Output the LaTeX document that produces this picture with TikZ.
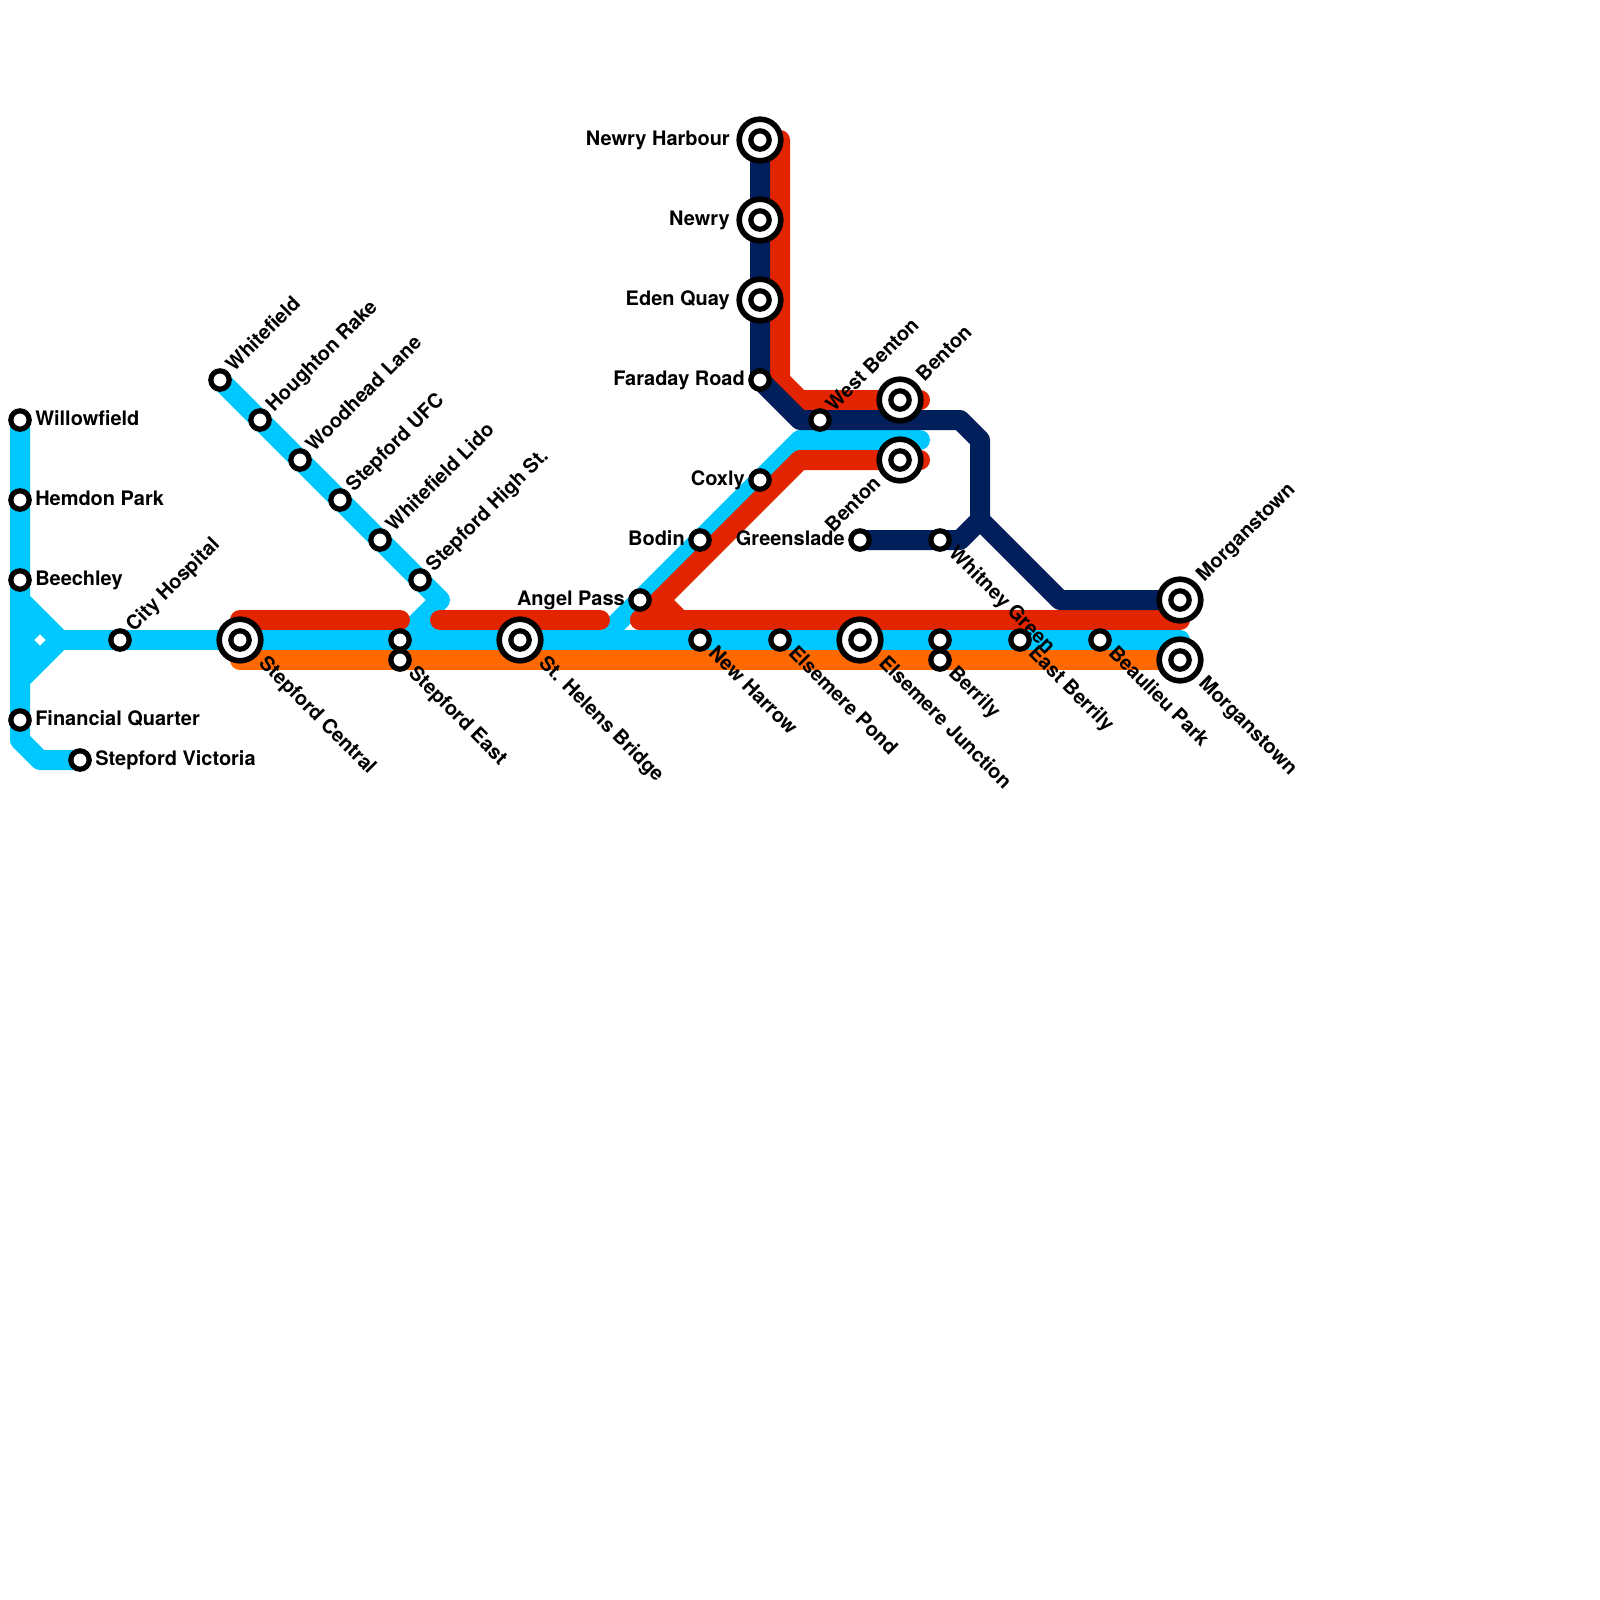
\documentclass[tikz,border=0pt]{standalone}
\usepackage{fontspec}
\setmainfont{TeX Gyre Heros}
\usetikzlibrary{positioning}
\definecolor{lineblue}{RGB}{0,200,255}
\definecolor{linered}{RGB}{227,36,0}
\definecolor{linenavy}{RGB}{1,31,91}
\definecolor{lineorange}{RGB}{255,105,0}
\tikzset{
  metro/.style={line width=0.5cm,line cap=round,line join=round},
  stn/.style={circle,draw=black,fill=white,line width=0.13cm,minimum size=0.46cm,inner sep=0pt},
  xchg/.style={circle,draw=black,fill=white,line width=0.14cm,minimum size=1.04cm,inner sep=0pt},
  lbl/.style={font=\fontsize{14.2}{16}\selectfont\bfseries,inner sep=0pt,text=black},
  lblr/.style={lbl,anchor=base west,xshift=0.375cm,yshift=-0.125cm},
  lbll/.style={lbl,anchor=base east,xshift=-0.375cm,yshift=-0.125cm},
  lblur/.style={lbl,anchor=base west,rotate=45,xshift=0.38cm,yshift=-0.115cm},
  lbldr/.style={lbl,anchor=base west,rotate=-45,xshift=0.38cm,yshift=-0.115cm},
  bigl/.style={lbl,anchor=base east,xshift=-0.75cm,yshift=-0.125cm},
  bigur/.style={lbl,anchor=base west,rotate=45,xshift=0.74cm,yshift=-0.115cm},
  bigdr/.style={lbl,anchor=base west,rotate=-45,xshift=0.74cm,yshift=-0.115cm},
  bigll/.style={lbl,anchor=base east,rotate=45,xshift=-0.75cm,yshift=-0.115cm},
}
\begin{document}
\begin{tikzpicture}[x=0.5cm,y=-0.5cm]
\useasboundingbox[fill=white] (0,0) rectangle (80,80);
% stations on the 20px grid
\foreach \nm/\x/\y in {willowfield/1/21,hemdon/1/25,beechley/1/29,financial/1/36,victoria/4/38,
  hospital/6/32,central/12/32,whitefield/11/19,houghton/13/21,woodhead/15/23,ufc/17/25,lido/19/27,
  highst/21/29,eastup/20/32,east/20/33,helens/26/32,angel/32/30,harrow/35/32,bodin/35/27,coxly/38/24,
  faraday/38/19,eden/38/15,newry/38/11,harbour/38/7,westbenton/41/21,bentonup/45/20,bentonlow/45/23,
  greenslade/43/27,whitney/47/27,pond/39/32,junction/43/32,berrilyup/47/32,berrily/47/33,
  eastberrily/51/32,beaulieu/55/32,morganup/59/30,morganlow/59/33}{
  \coordinate (\nm) at (\x,\y);
}
% orange
\draw[metro,lineorange] (central|-east) -- (morganlow);
% blue
\draw[metro,lineblue] (willowfield) -- (1,37) -- (2,38) -- (victoria);
\draw[metro,lineblue] (1,30) -- (3,32) -- (1,34);
\draw[metro,lineblue] (2,31) -- (1,32) -- (2,33);
\draw[metro,lineblue] (3,32) -- (59,32);
\draw[metro,lineblue] (whitefield) -- (22,30) -- (eastup);
\draw[metro,lineblue] (21,31) -- (22,32);
\draw[metro,lineblue] (30,32) -- (40,22) -- (46,22);
% red
\draw[metro,linered] (12,31) -- (20,31);
\draw[metro,linered] (22,31) -- (30,31);
\draw[metro,linered] (32,31) -- (59,31);
\draw[metro,linered] (33,30) -- (34,31);
\draw[metro,linered] (32,31) -- (40,23) -- (46,23);
\draw[metro,linered] (39,7) -- (39,19) -- (40,20) -- (46,20);
% navy
\draw[metro,linenavy] (harbour) -- (faraday) -- (40,21) -- (48,21) -- (49,22) -- (49,26) -- (53,30) -- (morganup);
\draw[metro,linenavy] (greenslade) -- (48,27) -- (49,26);
% interchanges
\foreach \nm in {central,helens,harbour,newry,eden,bentonup,bentonlow,junction,morganup,morganlow}{
  \node[xchg] (x-\nm) at (\nm) {};
}
\foreach \nm in {willowfield,hemdon,beechley,financial,victoria,hospital,central,whitefield,houghton,
  woodhead,ufc,lido,highst,eastup,east,helens,angel,harrow,bodin,coxly,faraday,eden,newry,harbour,
  westbenton,bentonup,bentonlow,greenslade,whitney,pond,junction,berrilyup,berrily,eastberrily,
  beaulieu,morganup,morganlow}{
  \node[stn] (s-\nm) at (\nm) {};
}
% labels
\foreach \nm/\txt in {willowfield/Willowfield,hemdon/Hemdon Park,beechley/Beechley,financial/Financial Quarter,victoria/Stepford Victoria}{
  \node[lblr] (l-\nm) at (\nm) {\txt};
}
\foreach \nm/\txt in {angel/Angel Pass,bodin/Bodin,coxly/Coxly,faraday/Faraday Road,greenslade/Greenslade}{
  \node[lbll] (l-\nm) at (\nm) {\txt};
}
\foreach \nm/\txt in {hospital/City Hospital,whitefield/Whitefield,houghton/Houghton Rake,woodhead/Woodhead Lane,ufc/Stepford UFC,lido/Whitefield Lido,highst/Stepford High St.,westbenton/West Benton}{
  \node[lblur] (l-\nm) at (\nm) {\txt};
}
\foreach \nm/\txt in {east/Stepford East,harrow/New Harrow,pond/Elsemere Pond,whitney/Whitney Green,berrily/Berrily,eastberrily/East Berrily,beaulieu/Beaulieu Park}{
  \node[lbldr] (l-\nm) at (\nm) {\txt};
}
\foreach \nm/\txt in {harbour/Newry Harbour,newry/Newry,eden/Eden Quay}{
  \node[bigl] (l-\nm) at (\nm) {\txt};
}
\node[bigur] (l-bentonup) at (bentonup) {Benton};
\node[bigur] (l-morganup) at (morganup) {Morganstown};
\node[bigll] (l-bentonlow) at (bentonlow) {Benton};
\foreach \nm/\txt in {central/Stepford Central,helens/St. Helens Bridge,junction/Elsemere Junction,morganlow/Morganstown}{
  \node[bigdr] (l-\nm) at (\nm) {\txt};
}
\end{tikzpicture}
\end{document}
